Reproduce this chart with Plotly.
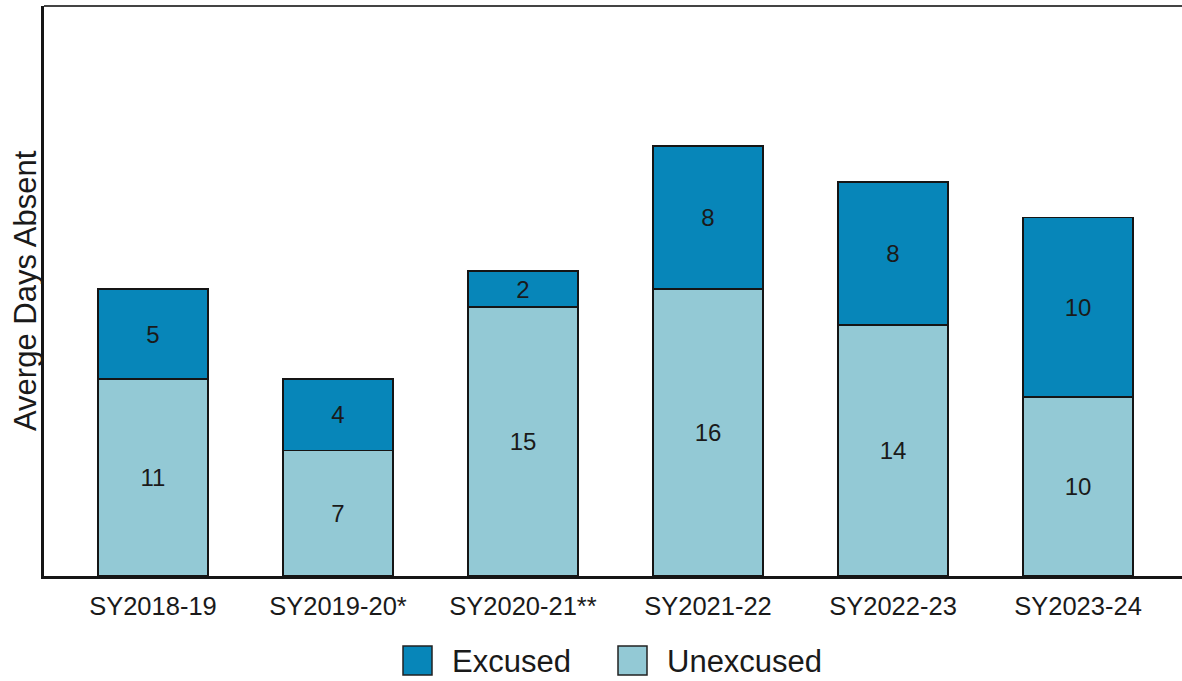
import plotly.graph_objects as go

# School years and average days absent, split by absence type
years = ["SY2018-19", "SY2019-20*", "SY2020-21**", "SY2021-22", "SY2022-23", "SY2023-24"]
unexcused = [11, 7, 15, 16, 14, 10]
excused = [5, 4, 2, 8, 8, 10]

series_names = ["Excused", "Unexcused"]
colors = {"Excused": "#0786B9", "Unexcused": "#93C9D5"}

W, H = 1182, 681
ML, MR, MT, MB = 44, 0, 6, 105
PW, PH = W - ML - MR, H - MT - MB

FONT = "Liberation Sans, Arial, sans-serif"
TXT = "#1a1a1a"

fig = go.Figure()
for name, vals in (("Unexcused", unexcused), ("Excused", excused)):
    fig.add_trace(go.Bar(
        x=years, y=vals, name=name,
        text=[str(v) for v in vals],
        textposition="inside", insidetextanchor="middle", textangle=0,
        textfont=dict(family=FONT, size=24, color=TXT),
        marker=dict(color=colors[name], line=dict(color="#151515", width=1.8)),
        showlegend=False,
    ))

def px_x(p):
    return (p - ML) / PW

def px_y(p):
    return (H - MB - p) / PH

shapes = [
    # frame line along the top of the plot area
    dict(type="line", xref="paper", yref="paper", x0=0, x1=1, y0=1, y1=1,
         line=dict(color="#444444", width=2)),
]
annotations = [
    dict(text="Averge Days Absent", xref="paper", yref="paper",
         x=px_x(25), y=0.5, xanchor="center", yanchor="middle", textangle=-90,
         showarrow=False, font=dict(family=FONT, size=31, color=TXT)),
]

# legend: swatch + label for each series
legend_x = [403, 618]
for name, lx in zip(series_names, legend_x):
    shapes.append(dict(type="rect", xref="paper", yref="paper",
                       x0=px_x(lx), x1=px_x(lx + 29), y0=px_y(646), y1=px_y(675),
                       fillcolor=colors[name], line=dict(color="#222222", width=1.5)))
    annotations.append(dict(text=name, xref="paper", yref="paper",
                            x=px_x(lx + 47), y=px_y(661), xanchor="left", yanchor="middle",
                            showarrow=False, font=dict(family=FONT, size=31, color=TXT)))

fig.update_layout(
    width=W, height=H,
    margin=dict(l=ML, r=MR, t=MT, b=MB),
    barmode="stack", bargap=0.405,
    plot_bgcolor="white", paper_bgcolor="white",
    font=dict(family=FONT, color=TXT),
    uniformtext=dict(minsize=24, mode="show"),
    shapes=shapes, annotations=annotations,
    xaxis=dict(range=[-0.589, 5.562], showline=True, linecolor="#151515", linewidth=2.5,
               ticks="", showgrid=False, zeroline=False,
               tickfont=dict(family=FONT, size=25.5, color=TXT), ticklabelstandoff=6),
    yaxis=dict(range=[0, 31.8], showline=True, linecolor="#151515", linewidth=2.5,
               showticklabels=False, ticks="", showgrid=False, zeroline=False),
)

fig.write_html("out.html")
